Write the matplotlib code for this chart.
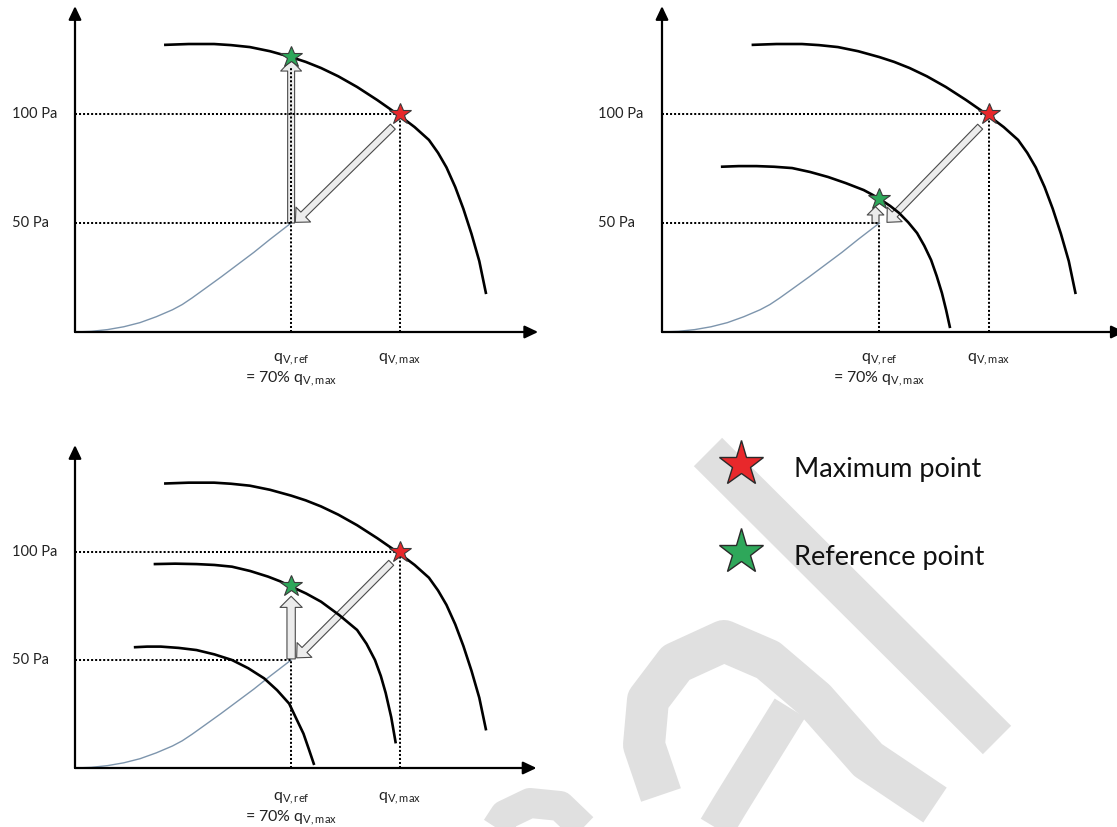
import matplotlib
matplotlib.use('Agg')
import matplotlib.pyplot as plt
from matplotlib.patches import FancyArrowPatch

plt.rcParams['font.family'] = ['Lato', 'DejaVu Sans']
plt.rcParams['mathtext.fontset'] = 'custom'
plt.rcParams['mathtext.rm'] = 'Lato'
plt.rcParams['mathtext.it'] = 'Lato:italic'
plt.rcParams['mathtext.bf'] = 'Lato:bold'

W, H, DPI = 1117, 827, 100

# ---------------- data (x: % of q_V,max, y: Pa) ----------------
pressure_levels = [100, 50]
pressure_labels = ['100 Pa', '50 Pa']
q_max = 100
q_ref = 66.5
p_max = 100
p_ref = 50

# fan curve at full speed (same in all three panels)
fan_max_x = [27.4, 35.0, 42.8, 48.0, 53.8, 60.0, 66.5, 71.0, 75.7, 81.0, 86.8, 93.0,
             100.0, 104.5, 108.9, 111.7, 114.3, 117.0, 119.5, 122.0, 124.4, 126.5]
fan_max_y = [131.7, 132.1, 132.1, 131.6, 130.7, 128.8, 126.1, 123.9, 121.1, 117.3, 112.4, 106.4,
             99.1, 94.0, 88.1, 82.2, 75.5, 66.5, 56.5, 45.0, 32.5, 17.4]

# reduced fan curve (top-right panel)
fan_low2_x = [18.0, 23.5, 28.9, 34.3, 39.8, 45.3, 50.8, 56.2, 61.7, 64.3, 67.0, 69.8,
              72.5, 75.3, 78.0, 80.2, 82.3, 84.0, 85.6, 86.9, 88.1]
fan_low2_y = [75.8, 76.1, 76.1, 75.8, 75.2, 73.4, 71.1, 68.3, 65.1, 63.0, 60.6, 57.8,
              54.6, 50.3, 45.4, 39.6, 33.0, 25.7, 17.9, 10.0, 1.8]

# reduced fan curves (bottom-left panel)
fan_mid3_x = [24.2, 30.8, 37.4, 42.9, 48.3, 53.9, 59.4, 63.0, 66.5, 71.1, 75.7, 81.3,
              86.8, 89.7, 92.3, 94.1, 95.6, 97.3, 98.7]
fan_mid3_y = [94.4, 94.6, 94.4, 94.0, 93.2, 91.2, 88.6, 86.5, 84.0, 80.8, 77.0, 70.8,
              63.9, 57.5, 50.0, 42.6, 34.7, 23.5, 11.4]
fan_low3_x = [18.1, 22.2, 26.4, 31.9, 37.4, 42.9, 48.3, 53.3, 58.2, 62.2, 65.9, 68.2,
              70.3, 72.0, 73.6]
fan_low3_y = [55.9, 56.2, 56.2, 55.6, 54.6, 52.6, 50.0, 46.2, 41.5, 36.0, 29.8, 22.5,
              15.9, 8.5, 1.4]

# system curve
sys_x = [0, 5, 10, 15, 20, 25, 30, 33, 36, 40, 45, 50, 55, 60, 66.5]
sys_y = [0, 0.3, 1.1, 2.4, 4.3, 7.0, 10.2, 12.6, 15.6, 19.9, 25.3, 30.9, 36.5, 42.5, 50.0]

# reference points
ref_point_y = {'p1': 126.3, 'p2': 60.8, 'p3': 84.3}

legend_labels = ['Maximum point', 'Reference point']

RED = '#e8282b'
GREEN = '#2ea75a'
STAR_EC = '#3a3a3a'
ARROW_FC = '#ececec'
ARROW_EC = '#4a4a4a'
SYS_C = '#7d95ad'

fig = plt.figure(figsize=(W / DPI, H / DPI), dpi=DPI)
fig.patch.set_facecolor('white')

# ---------------- faint watermark (background decoration) ----------------
bg = fig.add_axes([0, 0, 1, 1], zorder=-10)
bg.set_xlim(0, W)
bg.set_ylim(H, 0)
bg.axis('off')
WM = '#e0e0e0'
px2pt = 72.0 / DPI
bg.plot([708, 997], [452, 740], color=WM, lw=40 * px2pt, solid_capstyle='butt')
bg.plot([661, 644, 648, 676, 724, 768, 815, 868, 935],
        [795, 745, 700, 663, 641, 660, 700, 760, 805],
        color=WM, lw=42 * px2pt, solid_capstyle='butt', solid_joinstyle='round')
bg.plot([790, 730, 712], [708, 805, 835], color=WM, lw=36 * px2pt, solid_capstyle='butt')
bg.plot([492, 505, 530, 560, 585], [835, 815, 803, 806, 830], color=WM,
        lw=30 * px2pt, solid_capstyle='butt', solid_joinstyle='round')


def make_panel(ox, oy, sx, sy, xlim=(-26, 146), ylim=(-30, 152)):
    left = (ox + sx * xlim[0]) / W
    width = sx * (xlim[1] - xlim[0]) / W
    bottom = 1 - (oy - sy * ylim[0]) / H
    height = sy * (ylim[1] - ylim[0]) / H
    ax = fig.add_axes([left, bottom, width, height])
    ax.set_xlim(xlim)
    ax.set_ylim(ylim)
    ax.axis('off')
    return ax


def axis_arrows(ax, xtip, ytip):
    for end in [(xtip, 0), (0, ytip)]:
        a = FancyArrowPatch((0, 0), end,
                            arrowstyle='-|>,head_length=8,head_width=3.8',
                            mutation_scale=1, lw=1.6, color='black',
                            shrinkA=0, shrinkB=0, zorder=4, clip_on=False)
        ax.add_patch(a)


def block_arrow(ax, start, end, tail=5, head_w=15, head_l=8):
    a = FancyArrowPatch(start, end,
                        arrowstyle=f'simple,head_length={head_l},head_width={head_w},tail_width={tail}',
                        mutation_scale=1, fc=ARROW_FC, ec=ARROW_EC, lw=0.8,
                        shrinkA=0, shrinkB=0, zorder=2, clip_on=False)
    ax.add_patch(a)


def dotted(ax, xs, ys):
    ax.plot(xs, ys, color='black', lw=1.45, ls=(0, (1, 1)), zorder=3, clip_on=False)


def star(ax, x, y, color, ms=16.5):
    ax.plot([x], [y], marker='*', ms=ms, mfc=color, mec=STAR_EC, mew=0.8,
            zorder=7, clip_on=False, ls='none')


def curve(ax, xs, ys):
    ax.plot(xs, ys, color='black', lw=1.9, zorder=5,
            solid_capstyle='butt', solid_joinstyle='round', clip_on=False)


def common(ax, sy_lab1, sy_lab2, ref_dot_top):
    ax.plot(sys_x, sys_y, color=SYS_C, lw=1.0, zorder=3, clip_on=False,
            solid_joinstyle='round')
    curve(ax, fan_max_x, fan_max_y)
    dotted(ax, [0, q_max], [p_max, p_max])
    dotted(ax, [0, q_ref], [p_ref, p_ref])
    dotted(ax, [q_max, q_max], [0, p_max])
    dotted(ax, [q_ref, q_ref], [0, ref_dot_top])
    for lev, lab in zip(pressure_levels, pressure_labels):
        ax.text(-19.5, lev, lab, ha='left', va='center', fontsize=10.5, color='#222222')
    ax.text(q_ref, sy_lab1, r'$\mathrm{q_{V,ref}}$', ha='center', va='center',
            fontsize=11.5, color='#222222')
    ax.text(q_ref, sy_lab2, r'= 70% $\mathrm{q_{V,max}}$', ha='center', va='center',
            fontsize=11.5, color='#222222')
    ax.text(q_max, sy_lab1, r'$\mathrm{q_{V,max}}$', ha='center', va='center',
            fontsize=11.5, color='#222222')
    star(ax, q_max, p_max, RED)


# ---------------- panel 1 (top-left) ----------------
ax1 = make_panel(75, 332, 3.25, 2.18)
axis_arrows(ax1, 142.5, 149.5)
block_arrow(ax1, (q_ref, p_ref), (q_ref, ref_point_y['p1'] - 1.5))
common(ax1, -12.5, -21.5, ref_point_y['p1'] - 5)
block_arrow(ax1, (97.8, 94.2), (67.8, 50.3))
star(ax1, q_ref, ref_point_y['p1'], GREEN)

# ---------------- panel 2 (top-right) ----------------
ax2 = make_panel(662, 332, 3.27, 2.18)
axis_arrows(ax2, 141.5, 149.5)
curve(ax2, fan_low2_x, fan_low2_y)
common(ax2, -12.5, -21.5, p_ref)
block_arrow(ax2, (97.3, 94.2), (68.8, 50.3))
block_arrow(ax2, (q_ref - 1.2, p_ref), (q_ref - 1.2, 57.5), tail=5, head_w=12, head_l=6)
star(ax2, q_ref, ref_point_y['p2'], GREEN)

# ---------------- panel 3 (bottom-left) ----------------
ax3 = make_panel(75, 768, 3.25, 2.16)
axis_arrows(ax3, 142.0, 149.5)
curve(ax3, fan_mid3_x, fan_mid3_y)
curve(ax3, fan_low3_x, fan_low3_y)
block_arrow(ax3, (q_ref, p_ref + 0.5), (q_ref, 79.5), tail=6, head_w=16, head_l=8)
common(ax3, -14, -23, p_ref)
block_arrow(ax3, (97.3, 95.0), (68.2, 51.0))
star(ax3, q_ref, ref_point_y['p3'], GREEN)

# ---------------- legend ----------------
lg = fig.add_axes([0, 0, 1, 1], zorder=5)
lg.set_xlim(0, W)
lg.set_ylim(H, 0)
lg.axis('off')
for (yy, col, lab) in [(464, RED, legend_labels[0]), (552, GREEN, legend_labels[1])]:
    lg.plot([741], [yy], marker='*', ms=34, mfc=col, mec='#2a2a2a', mew=1.0, ls='none')
    lg.text(794, yy + 6, lab, ha='left', va='center', fontsize=19.5, color='#111111')

fig.savefig('out.png', dpi=DPI, facecolor='white')
